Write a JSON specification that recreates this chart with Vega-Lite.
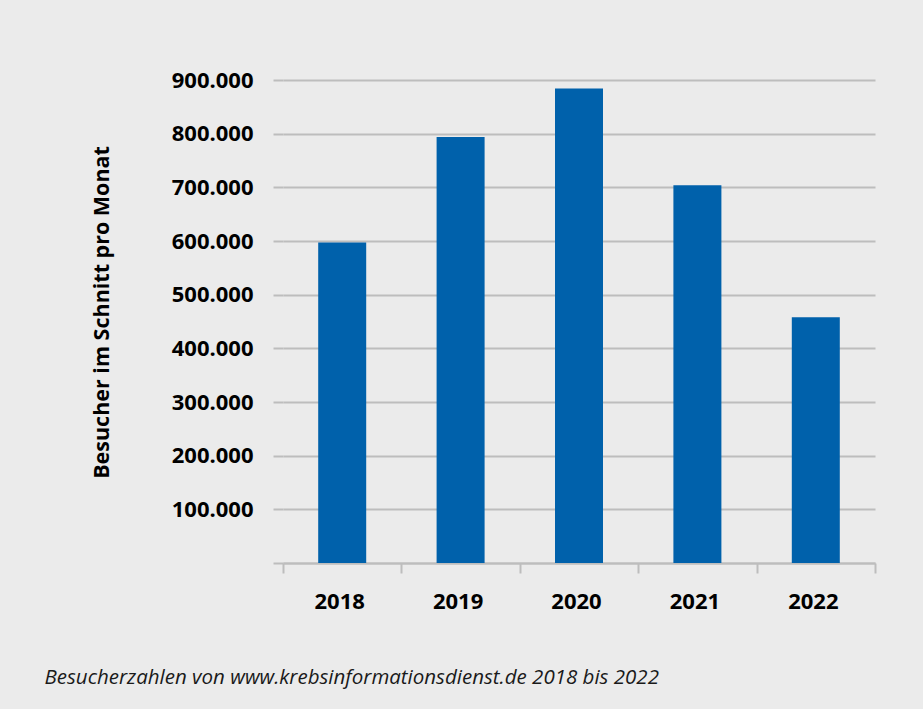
{
  "$schema": "https://vega.github.io/schema/vega-lite/v6.json",
  "autosize": "none",
  "width": 592,
  "height": 483,
  "padding": {"left": 283, "top": 80, "right": 48, "bottom": 146},
  "background": "#ebebeb",
  "config": {
    "view": {"stroke": null},
    "font": "Open Sans"
  },
  "data": {
    "values": [
      {"year": "2018", "visitors": 597000},
      {"year": "2019", "visitors": 794000},
      {"year": "2020", "visitors": 884000},
      {"year": "2021", "visitors": 704000},
      {"year": "2022", "visitors": 458000}
    ]
  },
  "mark": {"type": "bar", "color": "#0061ab", "size": 48},
  "encoding": {
    "x": {
      "field": "year",
      "type": "ordinal",
      "scale": {"paddingInner": 0, "paddingOuter": 0},
      "axis": {
        "title": "Besucherzahlen von www.krebsinformationsdienst.de 2018 bis 2022",
        "titleFont": "Open Sans",
        "titleFontSize": 20.5,
        "titleFontStyle": "italic",
        "titleFontWeight": "normal",
        "titleColor": "#1a1a1a",
        "titleAlign": "left",
        "titleAnchor": null,
        "titleBaseline": "alphabetic",
        "titleX": -239,
        "titleY": 120.5,
        "labelAngle": 0,
        "labelFont": "Open Sans",
        "labelFontSize": 22,
        "labelFontWeight": "bold",
        "labelColor": "#000000",
        "labelPadding": 18,
        "labelOffset": -3,
        "tickBand": "extent",
        "tickSize": 10,
        "tickWidth": 2,
        "tickColor": "#bdbdbd",
        "domainColor": "#bdbdbd",
        "domainWidth": 2,
        "grid": false
      }
    },
    "y": {
      "field": "visitors",
      "type": "quantitative",
      "scale": {"domain": [0, 900000], "nice": false},
      "axis": {
        "title": "Besucher im Schnitt pro Monat",
        "titleFont": "Open Sans",
        "titleFontSize": 21.5,
        "titleFontWeight": "bold",
        "titleColor": "#000000",
        "titleX": -170,
        "titleY": 232,
        "values": [0, 100000, 200000, 300000, 400000, 500000, 600000, 700000, 800000, 900000],
        "labelExpr": "datum.value == 0 ? '' : replace(format(datum.value, ','), ',', '.')",
        "labelFont": "Open Sans",
        "labelFontSize": 22,
        "labelFontWeight": "bold",
        "labelColor": "#000000",
        "labelPadding": 20,
        "tickSize": 10,
        "tickWidth": 2,
        "tickColor": "#bdbdbd",
        "domain": false,
        "grid": true,
        "gridColor": "#bdbdbd",
        "gridWidth": 2
      }
    }
  }
}
